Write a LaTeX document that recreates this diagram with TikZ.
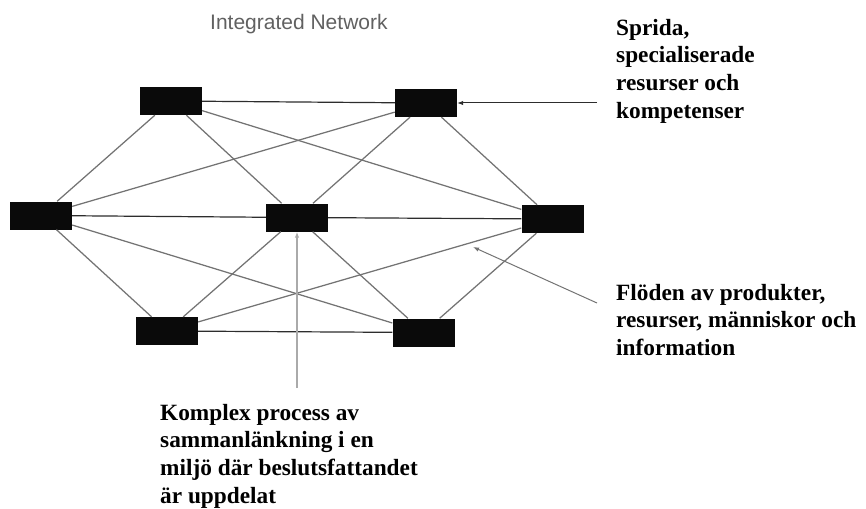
\documentclass[tikz,border=0pt]{standalone}
\usepackage{fontspec}
\setmainfont{Liberation Serif}
\newfontfamily\titlefont{Liberation Sans}
\usepackage{tikz}
\usetikzlibrary{arrows.meta}
\definecolor{boxblack}{RGB}{10, 10, 10}
\definecolor{linkgray}{RGB}{115, 115, 115}
\definecolor{linkdark}{RGB}{45, 45, 45}
\definecolor{pointergray}{RGB}{170, 170, 170}

\begin{document}
\begin{tikzpicture}[x=1pt, y=-1pt,
    unit/.style={fill=boxblack, minimum width=62pt, minimum height=28pt, inner sep=0pt},
    link/.style={draw=linkgray, line width=1.25pt},
    mainlink/.style={draw=linkdark, line width=1.2pt},
    pointer/.style={line width=1pt, -{Latex[length=6pt, width=4.5pt]}},
    remark/.style={anchor=north west, align=left, inner sep=0pt, font=\fontsize{23.3}{27.6}\selectfont\bfseries}]
    \useasboundingbox (0,0) rectangle (866,508);
    \node[anchor=base west, inner sep=0pt, text=black!62, font=\titlefont\fontsize{21}{24}\selectfont] (title) at (210,30) {Integrated Network};
    \node[unit] (tl) at (171,101)   {};
    \node[unit] (tr) at (426,103)   {};
    \node[unit] (ml) at (41,215.5)  {};
    \node[unit] (c)  at (297,217.5) {};
    \node[unit] (mr) at (552.5,219) {};
    \node[unit] (bl) at (167,331)   {};
    \node[unit] (br) at (423.5,332.5) {};
    \draw[mainlink] (tl) -- (tr);
    \draw[mainlink] (ml) -- (c);
    \draw[mainlink] (c)  -- (mr);
    \draw[mainlink] (bl) -- (br);
    \foreach \a/\b in {tl/ml, tl/c, tl/mr, tr/ml, tr/c, tr/mr, ml/bl, ml/br, mr/bl, mr/br, c/bl, c/br}
        \draw[link] (\a) -- (\b);
    \coordinate (p1) at (597,103);
    \coordinate (p2) at (597,303);
    \coordinate (p2tip) at (473,247);
    \coordinate (p3) at (297,388);
    \draw[pointer, draw=linkdark]                     (p1) -- (tr.east);
    \draw[pointer, draw=linkgray]                     (p2) -- (p2tip);
    \draw[pointer, draw=pointergray, line width=1.8pt] (p3) -- (c.south);
    \node[remark] (spread)  at (616,19)  {Sprida,\\specialiserade\\resurser och\\kompetenser};
    \node[remark] (flows)   at (616,284) {Flöden av produkter,\\resurser, människor och\\information};
    \node[remark] (process) at (160,404) {Komplex process av\\sammanlänkning i en\\miljö där beslutsfattandet\\är uppdelat};
\end{tikzpicture}
\end{document}
